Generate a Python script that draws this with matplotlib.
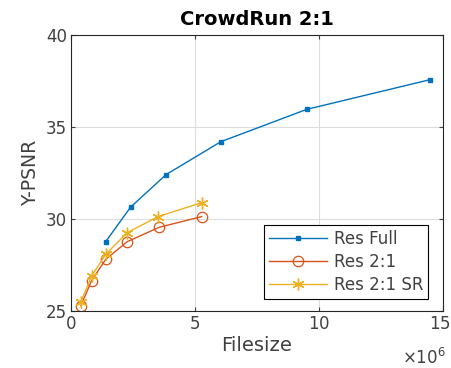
import matplotlib
matplotlib.use("Agg")
import matplotlib.pyplot as plt
import matplotlib.transforms as mtransforms
from matplotlib.ticker import ScalarFormatter

full_x = [1.40e6, 2.40e6, 3.83e6, 6.04e6, 9.51e6, 14.47e6]
full_y = [28.77, 30.64, 32.41, 34.20, 35.96, 37.57]
half_x = [0.40e6, 0.83e6, 1.40e6, 2.27e6, 3.56e6, 5.27e6]
half_y = [25.29, 26.65, 27.81, 28.77, 29.55, 30.13]
sr_x = [0.40e6, 0.83e6, 1.40e6, 2.27e6, 3.51e6, 5.27e6]
sr_y = [25.50, 26.90, 28.08, 29.26, 30.13, 30.89]
labels = ["Res Full", "Res 2:1", "Res 2:1 SR"]
xticks = [0, 5e6, 10e6, 15e6]
yticks = [25, 30, 35, 40]

plt.rcParams['font.family'] = ['DejaVu Sans']
plt.rcParams['mathtext.fontset'] = 'dejavusans'
txt = '#404040'
fig = plt.figure(figsize=(4.52, 3.68), dpi=100)
ax = fig.add_axes([71/452, 57/368, 372/452, 276/368])

ax.plot(full_x, full_y, '-s', color='#0072BD', lw=1, ms=3, label=labels[0])
ax.plot(half_x, half_y, '-o', color='#D95319', lw=1, ms=7.5, mfc='none', mew=0.9, label=labels[1])
ax.plot(sr_x, sr_y, '-', marker=(6, 2, 0), color='#EDB120', lw=1, ms=8.5, mew=1.0, label=labels[2])

ax.set_xlim(0, 15e6)
ax.set_ylim(25, 40)
ax.set_xticks(xticks)
ax.set_yticks(yticks)
fmt = ScalarFormatter(useMathText=True)
fmt.set_powerlimits((6, 6))
ax.xaxis.set_major_formatter(fmt)
ax.xaxis.get_offset_text().set_visible(False)
ax.grid(True, color='#dddddd', lw=0.8)
ax.set_axisbelow(True)
ax.tick_params(direction='in', length=3, labelsize=12, colors=txt, top=True, right=True, pad=3)
for s in ax.spines.values():
    s.set_color('#262626')
    s.set_linewidth(0.8)

fig.canvas.draw()
last = ax.get_xticklabels()[-1]
last.set_transform(last.get_transform() + mtransforms.ScaledTranslation(-3/100, 0, fig.dpi_scale_trans))

fig.text(446/452, 1 - 358/368, r'$\times10^{6}$', ha='right', va='center', fontsize=12, color=txt)

ax.set_title("CrowdRun 2:1", fontsize=14, fontweight='bold', color='black', pad=7)
ax.set_xlabel("Filesize", fontsize=14, color=txt, labelpad=2)
ax.set_ylabel("Y-PSNR", fontsize=13.5, color=txt, labelpad=4)

leg = ax.legend(loc='lower right', bbox_to_anchor=(0.96, 0.045), fontsize=12,
                fancybox=False, framealpha=1, edgecolor='black', borderpad=0.3,
                handlelength=3.5, handletextpad=0.4, labelspacing=0.3, borderaxespad=0)
leg.get_frame().set_linewidth(0.8)
for t in leg.get_texts():
    t.set_color(txt)

fig.savefig("out.png", dpi=100)
